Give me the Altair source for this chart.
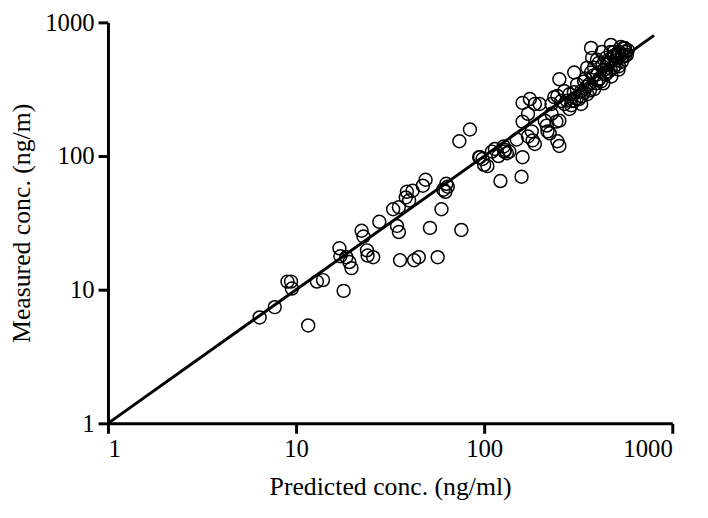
import altair as alt
import pandas as pd

# Predicted (x) and measured (y) concentrations
pred = [6.4, 7.7, 9.0, 9.4, 9.5, 11.6, 12.9, 13.9, 17.0, 17.2, 17.9, 18.5, 19.2, 19.7,
        22.3, 22.8, 23.8, 24.0, 25.7, 27.7, 32.8, 34.4, 35.2, 35.2, 35.7, 38.3, 38.8,
        39.9, 41.6, 42.4, 44.9, 47.2, 48.8, 51.5, 56.6, 59.3, 60.7, 62.2, 62.9, 64.0,
        73.8, 75.6, 84, 95, 100, 110, 122, 128, 127, 136,
        104, 94, 98, 114, 119, 129, 132, 149, 160, 179, 171, 181, 186, 160, 175, 186,
        197, 171, 210, 215, 228, 217, 223, 245, 251, 242, 251, 236, 245, 251, 257, 267,
        284, 291, 301, 328, 301, 312, 328, 340, 353, 370, 375, 353, 384, 398, 418, 423,
        444, 449, 472, 489, 507, 533, 552, 566, 539, 489, 460,
        361, 384, 407, 434, 460, 474, 501, 518, 545, 573, 407, 370, 340, 319, 284, 267,
        228, 398, 444, 512, 580, 158, 160,
        330, 350, 365, 380, 395, 410, 425, 440, 455, 470, 485, 500, 520, 540, 560, 300,
        290, 275, 310, 345, 430, 470, 520, 560]
meas = [6.2, 7.4, 11.5, 11.5, 10.2, 5.4, 11.5, 11.8, 20.4, 17.8, 9.8, 17.5, 16.1, 14.5,
        27.6, 25, 19.7, 18, 17.5, 32.2, 40, 30, 27, 41.5, 16.6, 49, 54, 46.5, 55, 16.6,
        17.5, 60, 66.5, 29, 17.5, 40, 56, 54, 62, 59, 129, 28, 158, 98, 86, 108, 65,
        108, 118, 108,
        84, 98, 95, 113, 100, 111, 105, 133, 181, 153, 140, 131, 123, 250, 267, 245,
        245, 207, 184, 169, 207, 153, 148, 129, 119, 181, 184, 276, 281, 375, 258, 306,
        225, 258, 258, 245, 422, 344, 306, 362, 290, 644, 543, 459, 459, 408, 362, 602,
        543, 483, 678, 602, 543, 655, 644, 602, 508, 459, 429,
        344, 316, 374, 443, 525, 394, 483, 443, 555, 570, 498, 422, 300, 267, 290, 245,
        245, 525, 408, 590, 620, 70, 98,
        280, 330, 310, 400, 350, 380, 470, 420, 500, 450, 560, 520, 600, 580, 640, 300,
        240, 260, 270, 380, 350, 600, 470, 560]

line_x = [1, 800]
line_y = [1, 800]

ticks = [1, 10, 100, 1000]

pts = pd.DataFrame({"pred": pred, "meas": meas})
ln = pd.DataFrame({"pred": line_x, "meas": line_y})

xscale = alt.Scale(type="log", domain=[1, 1000], nice=False)
yscale = alt.Scale(type="log", domain=[1, 1000], nice=False)

xaxis = alt.Axis(values=ticks, format="d", title="Predicted conc. (ng/ml)", grid=False,
                 titlePadding=12)
yaxis = alt.Axis(values=ticks, format="d", title="Measured conc. (ng/m)", grid=False,
                 titlePadding=10)

line = alt.Chart(ln).mark_line(color="black", strokeWidth=3, clip=False).encode(
    x=alt.X("pred:Q", scale=xscale, axis=xaxis),
    y=alt.Y("meas:Q", scale=yscale, axis=yaxis),
)

points = alt.Chart(pts).mark_point(
    shape="circle", filled=False, stroke="black", strokeWidth=1.5, size=170, opacity=1
).encode(
    x=alt.X("pred:Q", scale=xscale),
    y=alt.Y("meas:Q", scale=yscale),
)

chart = alt.layer(points, line).properties(
    width=570, height=405,
    autosize=alt.AutoSizeParams(type="none"),
    padding={"left": 101, "top": 12, "right": 28, "bottom": 85},
).configure_view(stroke=None).configure_axis(
    labelFont="Liberation Serif", titleFont="Liberation Serif",
    labelFontSize=25, titleFontSize=26, titleFontWeight="normal",
    labelColor="black", titleColor="black",
    domainColor="black", tickColor="black", domainWidth=3, tickWidth=3,
    tickSize=10, labelPadding=4,
)

chart.save("out.html", embed_options={"renderer": "svg", "actions": False})
